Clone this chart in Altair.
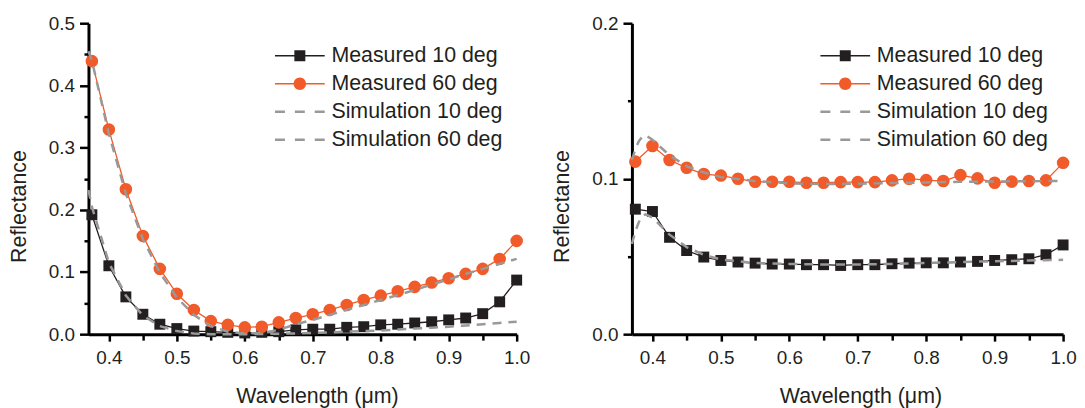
import altair as alt
import pandas as pd

FONT = "Liberation Sans"
TEXT = "#231f20"
BLACK = "#231f20"
ORANGE = "#f15a29"
GRAY = "#999999"

names = ["Measured 10 deg", "Measured 60 deg", "Simulation 10 deg", "Simulation 60 deg"]

wl = [0.375, 0.4, 0.425, 0.45, 0.475, 0.5, 0.525, 0.55, 0.575, 0.6, 0.625, 0.65, 0.675,
      0.7, 0.725, 0.75, 0.775, 0.8, 0.825, 0.85, 0.875, 0.9, 0.925, 0.95, 0.975, 1.0]

# left panel
meas10_l = [0.192, 0.110, 0.060, 0.032, 0.016, 0.009, 0.005, 0.004, 0.003, 0.002, 0.003, 0.004, 0.007,
            0.008, 0.008, 0.011, 0.012, 0.015, 0.016, 0.018, 0.020, 0.023, 0.026, 0.033, 0.052, 0.087]
meas60_l = [0.439, 0.329, 0.233, 0.158, 0.105, 0.065, 0.039, 0.021, 0.015, 0.011, 0.012, 0.019, 0.026,
            0.032, 0.039, 0.047, 0.055, 0.062, 0.069, 0.076, 0.083, 0.090, 0.097, 0.105, 0.121, 0.150]
sim_wl_l = [0.37, 0.375, 0.4, 0.425, 0.45, 0.475, 0.5, 0.525, 0.55, 0.575, 0.6, 0.625, 0.65, 0.675,
            0.7, 0.725, 0.75, 0.775, 0.8, 0.825, 0.85, 0.875, 0.9, 0.925, 0.95, 0.975, 1.0]
sim10_l = [0.232, 0.205, 0.115, 0.062, 0.030, 0.013, 0.005, 0.001, 0.0, 0.0, 0.0, 0.0003, 0.0008, 0.0012,
           0.002, 0.003, 0.004, 0.005, 0.006, 0.0075, 0.009, 0.0105, 0.012, 0.014, 0.016, 0.018, 0.020]
sim60_l = [0.455, 0.440, 0.322, 0.226, 0.153, 0.099, 0.059, 0.031, 0.013, 0.004, 0.001, 0.002, 0.007, 0.016,
           0.023, 0.031, 0.039, 0.047, 0.055, 0.063, 0.071, 0.080, 0.088, 0.097, 0.105, 0.113, 0.121]

# right panel
meas10_r = [0.0804, 0.0789, 0.0623, 0.0538, 0.0496, 0.0474, 0.0464, 0.0457, 0.0451, 0.0451, 0.0447, 0.0447, 0.0442,
            0.0447, 0.0447, 0.0453, 0.0457, 0.0459, 0.0459, 0.0464, 0.0468, 0.0474, 0.0479, 0.0485, 0.0511, 0.0574]
meas60_r = [0.111, 0.121, 0.112, 0.107, 0.103, 0.102, 0.100, 0.098, 0.098, 0.098, 0.0974, 0.0974, 0.0978,
            0.0978, 0.0978, 0.0989, 0.100, 0.0991, 0.0985, 0.1023, 0.1002, 0.0974, 0.0981, 0.0985, 0.0989, 0.1102]
sim_wl_r = [0.37, 0.375, 0.38, 0.385, 0.39, 0.4, 0.425, 0.45, 0.475, 0.5, 0.55, 0.6, 0.65,
            0.7, 0.75, 0.8, 0.85, 0.9, 0.95, 1.0]
sim10_r = [0.058, 0.066, 0.072, 0.076, 0.077, 0.075, 0.064, 0.056, 0.051, 0.048, 0.0458, 0.0452, 0.0448,
           0.0448, 0.0452, 0.0458, 0.0464, 0.0469, 0.0474, 0.0478]
sim60_r = [0.112, 0.119, 0.124, 0.127, 0.128, 0.125, 0.115, 0.108, 0.104, 0.101, 0.0985, 0.097, 0.0965,
           0.0968, 0.0972, 0.0976, 0.098, 0.0982, 0.0984, 0.0985]

x_ticks = [0.4, 0.45, 0.5, 0.55, 0.6, 0.65, 0.7, 0.75, 0.8, 0.85, 0.9, 0.95, 1.0]
y_ticks_l = [0.0, 0.05, 0.1, 0.15, 0.2, 0.25, 0.3, 0.35, 0.4, 0.45, 0.5]
y_ticks_r = [0.0, 0.05, 0.1, 0.15, 0.2]

# legend glyphs (custom symbol paths)
LINE = "M-4.17,-0.11H4.17V0.11H-4.17Z"
SQUARE = "M-0.92,-0.92H0.92V0.92H-0.92Z"
CIRCLE = "M1.04,0A1.04,1.04,0,1,1,-1.04,0A1.04,1.04,0,1,1,1.04,0Z"
DASHES = "M-4.17,-0.21H-2.5V0.21H-4.17Z M-0.83,-0.21H0.83V0.21H-0.83Z M2.5,-0.21H4.17V0.21H2.5Z"
glyphs = [LINE + " " + SQUARE, LINE + " " + CIRCLE, DASHES, DASHES]
glyph_fill = [BLACK, ORANGE, GRAY, GRAY]

MAJOR = "abs(datum.value*10 - round(datum.value*10)) < 0.001"


def x_axis():
    return alt.Axis(values=x_ticks, labelExpr=f"{MAJOR} ? format(datum.value, '.1f') : ''",
                    tickSize={"condition": {"test": MAJOR, "value": 7}, "value": 6},
                    labelPadding=8, title="Wavelength (\u03bcm)", titlePadding=18, titleX=230)


def y_axis(ticks):
    return alt.Axis(values=ticks, labelExpr=f"{MAJOR} ? format(datum.value, '.1f') : ''",
                    tickSize={"condition": {"test": MAJOR, "value": 9}, "value": 4.5},
                    labelPadding=5, title="Reflectance", titlePadding=18, titleY=184)


def panel(m10, m60, swl, s10, s60, ymax, yticks, width, key, lx):
    xs = alt.Scale(domain=[0.37, 1.0], nice=False, zero=False)
    ys = alt.Scale(domain=[0, ymax], nice=False)
    X = alt.X("wl:Q", scale=xs, axis=x_axis())
    Y = alt.Y("r:Q", scale=ys, axis=y_axis(yticks))

    d10 = pd.DataFrame({"wl": wl, "r": m10})
    d60 = pd.DataFrame({"wl": wl, "r": m60})
    ds10 = pd.DataFrame({"wl": swl, "r": s10})
    ds60 = pd.DataFrame({"wl": swl, "r": s60})

    l10 = alt.Chart(d10).mark_line(color=BLACK, strokeWidth=1.3).encode(x=X, y=Y)
    p10 = alt.Chart(d10).mark_point(shape="square", filled=True, color=BLACK, size=121, opacity=1).encode(x=X, y=Y)
    l60 = alt.Chart(d60).mark_line(color=ORANGE, strokeWidth=1.3).encode(x=X, y=Y)
    p60 = alt.Chart(d60).mark_point(shape="circle", filled=True, color=ORANGE, size=160, opacity=1).encode(x=X, y=Y)
    s10c = alt.Chart(ds10).mark_line(color=GRAY, strokeWidth=2.5, strokeDash=[9, 7]).encode(x=X, y=Y)
    s60c = alt.Chart(ds60).mark_line(color=GRAY, strokeWidth=2.5, strokeDash=[9, 7]).encode(x=X, y=Y)

    leg = alt.Legend(title=None, orient="none", legendX=lx, legendY=22, symbolSize=144,
                     symbolStrokeWidth=0, labelOffset=21, labelFont=FONT, labelFontSize=21.5,
                     labelColor=TEXT, rowPadding=5.2, padding=0, labelLimit=0)
    field = "series_" + key
    legd = pd.DataFrame({field: names})
    legl = alt.Chart(legd).mark_point(filled=True, opacity=1).encode(
        shape=alt.Shape(f"{field}:N", scale=alt.Scale(domain=names, range=glyphs), legend=leg),
        fill=alt.Fill(f"{field}:N", scale=alt.Scale(domain=names, range=glyph_fill), legend=leg),
    ).transform_filter("false")

    return alt.layer(l10, l60, p10, p60, s10c, s60c, legl).properties(width=width, height=313)


left = panel(meas10_l, meas60_l, sim_wl_l, sim10_l, sim60_l, 0.5, y_ticks_l, 431, "l", 202)
right = panel(meas10_r, meas60_r, sim_wl_r, sim10_r, sim60_r, 0.2, y_ticks_r, 434, "r", 204)

chart = alt.hconcat(left, right, spacing=21).resolve_scale(
    shape="independent", fill="independent"
).resolve_legend(shape="independent", fill="independent").properties(
    padding={"left": 0, "top": 5, "right": 0, "bottom": 0}
).configure_view(stroke=None).configure_axis(
    grid=False, domainColor="black", domainWidth=3, tickColor="black", tickWidth=2.5,
    labelFont=FONT, labelFontSize=19, labelColor=TEXT, labelFlush=False, labelOverlap=False,
    titleFont=FONT, titleFontSize=21.5, titleFontWeight="normal", titleColor=TEXT,
)

chart.save("out.html", embed_options={"renderer": "svg", "actions": False})
